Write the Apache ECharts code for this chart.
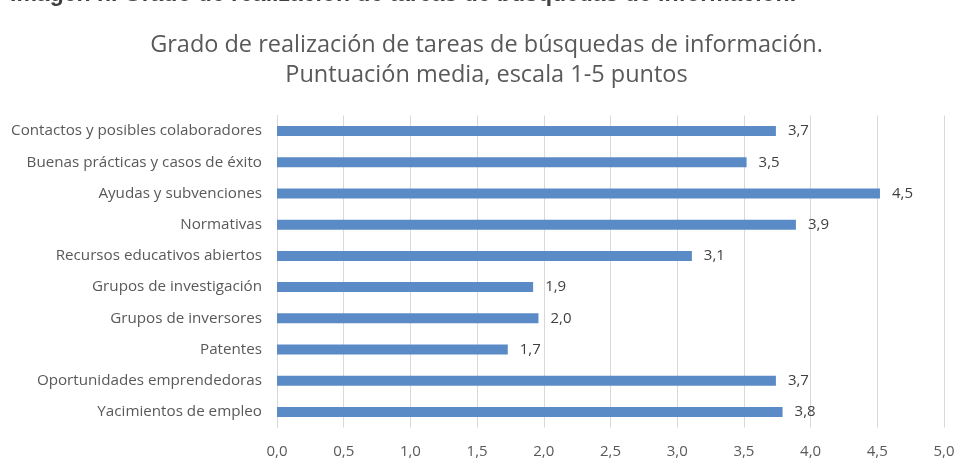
<!DOCTYPE html>
<html>
<head>
<meta charset="utf-8">
<script src="https://cdn.jsdelivr.net/npm/echarts@6/dist/echarts.min.js"></script>
<style>
html,body{margin:0;padding:0;background:#fff;}
#chart{width:973px;height:466px;}
</style>
</head>
<body>
<div id="chart"></div>
<script>
var categories = [
  "Contactos y posibles colaboradores",
  "Buenas prácticas y casos de éxito",
  "Ayudas y subvenciones",
  "Normativas",
  "Recursos educativos abiertos",
  "Grupos de investigación",
  "Grupos de inversores",
  "Patentes",
  "Oportunidades emprendedoras",
  "Yacimientos de empleo"
];
var values = [3.74, 3.52, 4.52, 3.89, 3.11, 1.92, 1.96, 1.73, 3.74, 3.79];
var xTicks = ["0,0","0,5","1,0","1,5","2,0","2,5","3,0","3,5","4,0","4,5","5,0"];
var topCaption = "Imagen n. Grado de realización de tareas de búsquedas de información.";
var titleLines = ["Grado de realización de tareas de búsquedas de información.", "Puntuación media, escala 1-5 puntos"];

var chart = echarts.init(document.getElementById('chart'), null, {renderer: 'canvas'});
var FONT = '"Open Sans", Lato, sans-serif';
chart.setOption({
  animation: false,
  backgroundColor: '#ffffff',
  title: {
    text: titleLines.join('\n'),
    left: 'center',
    top: 25,
    padding: [5, 0, 5, 10],
    textStyle: {
      fontFamily: FONT,
      fontSize: 23.5,
      fontWeight: 'normal',
      color: '#595959',
      lineHeight: 30
    }
  },
  graphic: [{
    type: 'text',
    left: 10,
    top: -17,
    style: {
      text: topCaption,
      fontFamily: '"Liberation Sans", Arial, sans-serif',
      fontSize: 23,
      fontWeight: 'bold',
      fill: '#404040'
    }
  }],
  grid: {left: 277, right: 29, top: 115.5, bottom: 38.5, containLabel: false},
  xAxis: {
    type: 'value',
    min: 0,
    max: 5,
    interval: 0.5,
    axisLine: {show: false},
    axisTick: {show: false},
    splitLine: {show: true, lineStyle: {color: '#d9d9d9', width: 1}},
    axisLabel: {
      fontFamily: FONT,
      fontSize: 15,
      color: '#595959',
      margin: 17,
      formatter: function (v) { return xTicks[Math.round(v / 0.5)]; }
    }
  },
  yAxis: {
    type: 'category',
    data: categories,
    inverse: true,
    axisLine: {show: true, lineStyle: {color: '#d9d9d9'}},
    axisTick: {show: false},
    axisLabel: {
      fontFamily: FONT,
      fontSize: 15.2,
      color: '#595959',
      margin: 15
    }
  },
  series: [{
    type: 'bar',
    data: values,
    barWidth: '32%',
    itemStyle: {color: '#5b8bc6'},
    label: {
      show: true,
      position: 'right',
      distance: 12,
      fontFamily: FONT,
      fontSize: 15,
      color: '#404040',
      formatter: function (p) { return p.value.toFixed(1).replace('.', ','); }
    }
  }]
});
</script>
</body>
</html>
